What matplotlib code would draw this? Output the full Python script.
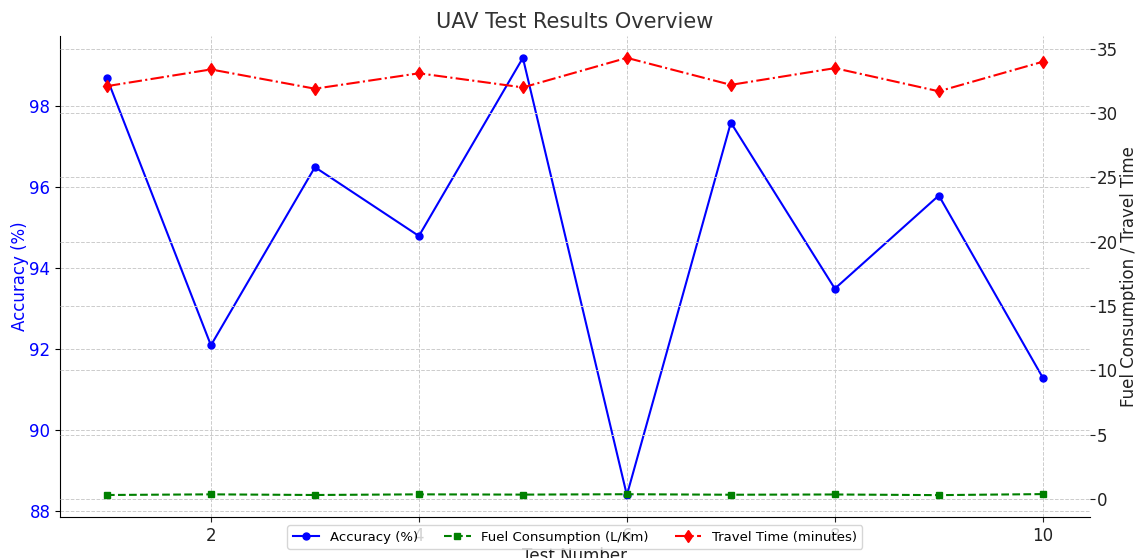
import matplotlib
matplotlib.use("Agg")
import matplotlib.pyplot as plt

tests = [1, 2, 3, 4, 5, 6, 7, 8, 9, 10]
accuracy = [98.7, 92.1, 96.5, 94.8, 99.2, 88.4, 97.6, 93.5, 95.8, 91.3]
fuel = [0.30, 0.35, 0.30, 0.35, 0.33, 0.36, 0.32, 0.34, 0.29, 0.37]
travel = [32.1, 33.4, 31.9, 33.1, 32.0, 34.3, 32.2, 33.5, 31.7, 34.0]

fig = plt.figure(figsize=(11.35, 5.58), dpi=100)
ax = fig.add_axes([0.053, 0.0735, 0.907, 0.862])
ax2 = ax.twinx()

l1, = ax.plot(tests, accuracy, color='blue', marker='o', markersize=5, linestyle='-', label='Accuracy (%)')
l2, = ax2.plot(tests, fuel, color='green', marker='s', markersize=5, linestyle='--', label='Fuel Consumption (L/Km)')
l3, = ax2.plot(tests, travel, color='red', marker='d', markersize=6, linestyle='-.', label='Travel Time (minutes)')

ax.set_xticks([2, 4, 6, 8, 10])
ax.set_xlabel('Test Number', fontsize=12, color='#222222', labelpad=2)
ax.set_ylabel('Accuracy (%)', fontsize=12, color='blue', labelpad=0)
ax2.set_ylabel('Fuel Consumption / Travel Time', fontsize=12, color='#222222', labelpad=2)
ax.set_title('UAV Test Results Overview', fontsize=15, color='#333333')

ax.tick_params(axis='y', labelcolor='blue', labelsize=12)
ax.tick_params(axis='x', labelsize=12, colors='#222222')
ax2.tick_params(axis='y', labelsize=12, colors='#222222', pad=1.5)

ax.grid(True, linestyle='--', color='#cccccc', linewidth=0.7)
ax2.grid(True, linestyle='--', color='#cccccc', linewidth=0.7)

for a in (ax, ax2):
    a.spines['top'].set_visible(False)
    a.spines['right'].set_visible(False)
ax2.spines['left'].set_visible(False)
ax2.spines['bottom'].set_visible(False)

leg = ax.legend(handles=[l1, l2, l3], loc='lower center', bbox_to_anchor=(0.5, -0.08), ncol=3, fontsize=9.5)
leg.set_zorder(10)

fig.savefig('out.png', dpi=100)
